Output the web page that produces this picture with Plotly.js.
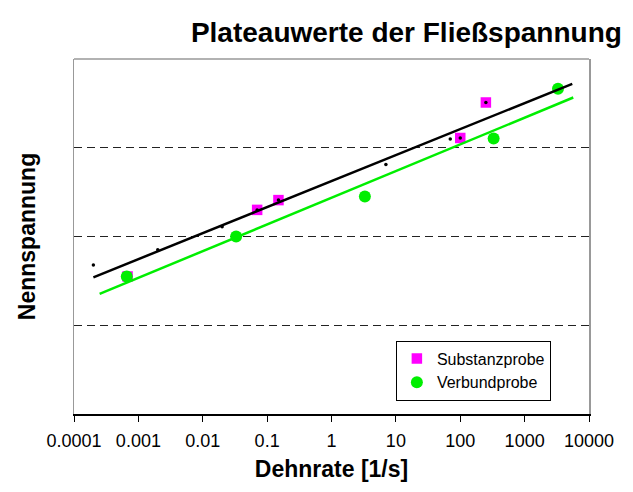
<!DOCTYPE html>
<html>
<head>
<meta charset="utf-8">
<script src="https://cdn.plot.ly/plotly-3.0.1.min.js"></script>
<style>html,body{margin:0;padding:0;background:#fff}#chart{width:633px;height:492px}</style>
</head>
<body>
<div id="chart"></div>
<script>
// Substanzprobe (magenta squares)
const substX = [0.00068, 0.07, 0.15, 100, 250];
const substY = [1.55, 2.30, 2.41, 3.11, 3.51];
// Verbundprobe (green circles)
const verbX = [0.00066, 0.033, 3.3, 330, 3300];
const verbY = [1.55, 2.00, 2.45, 3.105, 3.665];
// small black points (no legend entry)
const dotX = [0.0002, 0.002, 0.02, 0.07, 0.15, 7, 70, 100, 250];
const dotY = [1.68, 1.85, 2.11, 2.30, 2.41, 2.81, 3.10, 3.11, 3.51];
// trend lines (end points)
const trendBlackX = [0.0002, 5500];
const trendBlackY = [1.54, 3.72];
const trendGreenX = [0.00025, 5700];
const trendGreenY = [1.353, 3.566];
const xTickVals = [0.0001, 0.001, 0.01, 0.1, 1, 10, 100, 1000, 10000];
const xTickText = ['0.0001', '0.001', '0.01', '0.1', '1', '10', '100', '1000', '10000'];

const FONT = 'Liberation Sans, Arial, sans-serif';

const data = [
  {x: substX, y: substY, type: 'scatter', mode: 'markers', name: 'Substanzprobe',
   marker: {symbol: 'square', size: 10.5, color: '#ff00ff'}},
  {x: verbX, y: verbY, type: 'scatter', mode: 'markers', name: 'Verbundprobe',
   marker: {symbol: 'circle', size: 12, color: '#00ee00'}},
  {x: trendGreenX, y: trendGreenY, type: 'scatter', mode: 'lines', showlegend: false,
   line: {color: '#00ee00', width: 2.5}},
  {x: trendBlackX, y: trendBlackY, type: 'scatter', mode: 'lines', showlegend: false,
   line: {color: '#000000', width: 2.5}},
  {x: dotX, y: dotY, type: 'scatter', mode: 'markers', showlegend: false,
   marker: {symbol: 'circle', size: 3.5, color: '#000000'}}
];

const layout = {
  width: 633, height: 492,
  margin: {l: 74, r: 44, t: 59, b: 78},
  paper_bgcolor: '#ffffff', plot_bgcolor: '#ffffff',
  font: {family: FONT, color: '#000'},
  title: {text: '<b>Plateauwerte der Fließspannung</b>', font: {family: FONT, size: 28, color: '#000'},
          xref: 'container', x: 0.642, xanchor: 'center', yref: 'container', y: 0.935, yanchor: 'middle'},
  xaxis: {
    type: 'log', range: [-4, 4],
    tickvals: xTickVals, ticktext: xTickText,
    tickfont: {family: FONT, size: 18, color: '#000'},
    ticks: 'outside', ticklen: 6, tickcolor: '#000', tickwidth: 1,
    ticklabelstandoff: 4,
    showline: true, linecolor: '#000', linewidth: 1.5, mirror: false,
    showgrid: false, zeroline: false,
    title: {text: '<b>Dehnrate [1/s]</b>', font: {family: FONT, size: 23, color: '#000'}, standoff: 11}
  },
  yaxis: {
    range: [0, 4], tickvals: [1, 2, 3], showticklabels: false, ticks: '',
    showgrid: true, gridcolor: '#222', gridwidth: 1, griddash: '8px,5px',
    showline: true, linecolor: '#999', linewidth: 1.5, mirror: true, zeroline: false,
    title: {text: '<b>Nennspannung</b>', font: {family: FONT, size: 23, color: '#000'}, standoff: 30}
  },
  shapes: [
    {type: 'line', xref: 'x domain', yref: 'y domain', x0: 0, x1: 1, y0: 1, y1: 1,
     line: {color: '#999', width: 1.5}}
  ],
  legend: {x: 0.625, y: 0.207, xanchor: 'left', yanchor: 'top',
           bgcolor: '#fff', bordercolor: '#000', borderwidth: 1,
           font: {family: FONT, size: 16, color: '#000'}, itemwidth: 30, tracegroupgap: 0},
  showlegend: true
};

Plotly.newPlot('chart', data, layout, {staticPlot: true, displayModeBar: false});
</script>
</body>
</html>
